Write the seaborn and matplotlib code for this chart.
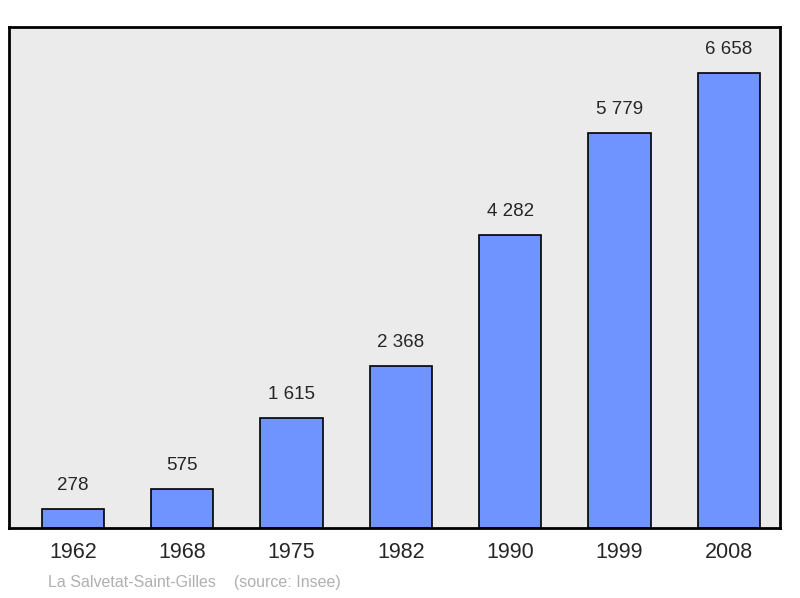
"""Population bar chart for La Salvetat-Saint-Gilles."""

import matplotlib.pyplot as plt
import pandas as pd
import seaborn as sns

YEARS = ["1962", "1968", "1975", "1982", "1990", "1999", "2008"]
POPULATION = [278, 575, 1615, 2368, 4282, 5779, 6658]
VALUE_LABELS = ["278", "575", "1 615", "2 368", "4 282", "5 779", "6 658"]

data = pd.DataFrame({"year": YEARS, "population": POPULATION})

sns.set_style("white")
plt.rcParams["font.family"] = ["Liberation Sans", "DejaVu Sans"]

fig = plt.figure(figsize=(8, 5.98), dpi=100)
ax = fig.add_axes([9 / 800, 70 / 598, 771 / 800, 501 / 598])
ax.set_facecolor("#ebebeb")

sns.barplot(
    data=data,
    x="year",
    y="population",
    color="#7094ff",
    saturation=1,
    width=0.57,
    edgecolor="black",
    linewidth=1.2,
    ax=ax,
)

for i, (value, label) in enumerate(zip(POPULATION, VALUE_LABELS)):
    ax.text(i, value + 220, label, ha="center", va="bottom", fontsize=13.5)

ax.set_xlim(-0.585, 6.467)
ax.set_ylim(0, 7331)
ax.set_yticks([])
ax.set_xlabel("")
ax.set_ylabel("")
ax.tick_params(axis="x", length=0, labelsize=15.5, pad=10)
for spine in ax.spines.values():
    spine.set_linewidth(2)
    spine.set_color("black")

fig.text(48 / 800, 1 - 583 / 598, "La Salvetat-Saint-Gilles    (source: Insee)",
         color="#b0b0b0", fontsize=11.5, va="center")

fig.savefig("out.png", dpi=100)
